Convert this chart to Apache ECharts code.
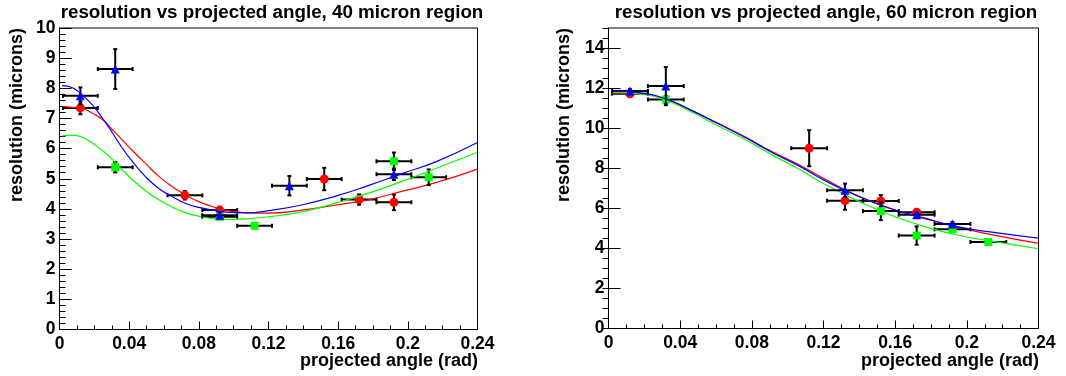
<!DOCTYPE html>
<html>
<head>
<meta charset="utf-8">
<script src="https://cdn.jsdelivr.net/npm/echarts@6/dist/echarts.min.js"></script>
<style>
  html, body { margin: 0; padding: 0; background: #fff; }
  #chart { width: 1066px; height: 376px; }
</style>
</head>
<body>
<div id="chart"></div>
<script>
// ---- tick labels ----
const xTickLabels = ['0', '0.04', '0.08', '0.12', '0.16', '0.2', '0.24'];
const yTickLabels40 = ['0', '1', '2', '3', '4', '5', '6', '7', '8', '9', '10'];
const yTickLabels60 = ['0', '2', '4', '6', '8', '10', '12', '14'];

// ---- 40 micron region: measured points (angle, resolution, errors) ----
const red40X = [0.012, 0.072, 0.092, 0.152, 0.172, 0.192];
const red40Y = [7.35, 4.45, 3.96, 4.99, 4.31, 4.22];
const red40Ey = [0.21, 0.14, 0.11, 0.37, 0.17, 0.26];

const green40X = [0.032, 0.092, 0.112, 0.192, 0.212];
const green40Y = [5.38, 3.74, 3.44, 5.58, 5.05];
const green40Ey = [0.17, 0.08, 0.05, 0.29, 0.26];

const blue40X = [0.012, 0.032, 0.092, 0.132, 0.192];
const blue40Y = [7.75, 8.64, 3.79, 4.77, 5.15];
const blue40Ey = [0.28, 0.66, 0.1, 0.32, 0.19];

// fitted curves, 40 micron region
const fit40X = [0.0015, 0.0075, 0.013, 0.019, 0.025, 0.030, 0.036, 0.042, 0.0495, 0.057, 0.065,
                0.0725, 0.080, 0.088, 0.095, 0.107, 0.120, 0.139, 0.159, 0.178, 0.197, 0.216, 0.240];
const fit40Red = [7.39, 7.37, 7.33, 7.17, 6.95, 6.65, 6.29, 5.93, 5.50, 5.08, 4.73,
                  4.46, 4.24, 4.07, 3.96, 3.87, 3.86, 3.96, 4.13, 4.31, 4.59, 4.87, 5.32];
const fit40Green = [6.42, 6.45, 6.38, 6.18, 5.92, 5.66, 5.30, 4.96, 4.60, 4.30, 4.05,
                    3.87, 3.76, 3.68, 3.65, 3.67, 3.74, 3.90, 4.20, 4.53, 4.92, 5.34, 5.88];
const fit40Blue = [8.09, 8.02, 7.78, 7.44, 6.98, 6.56, 6.02, 5.56, 5.06, 4.68, 4.40,
                   4.18, 4.05, 3.96, 3.90, 3.87, 3.94, 4.13, 4.43, 4.79, 5.18, 5.56, 6.20];

// ---- 60 micron region ----
const red60X = [0.012, 0.112, 0.132, 0.152, 0.172];
const red60Y = [11.72, 9.0, 6.38, 6.37, 5.8];
const red60Ey = [0.1, 0.9, 0.45, 0.29, 0.12];

const green60X = [0.032, 0.152, 0.172, 0.192, 0.212];
const green60Y = [11.43, 5.86, 4.64, 4.95, 4.32];
const green60Ey = [0.17, 0.45, 0.46, 0.08, 0.05];

const blue60X = [0.012, 0.032, 0.132, 0.172, 0.192];
const blue60Y = [11.86, 12.1, 6.9, 5.68, 5.22];
const blue60Ey = [0.08, 0.95, 0.33, 0.1, 0.1];

const fit60X = [0.002, 0.018, 0.032, 0.046, 0.061, 0.076, 0.091, 0.106, 0.120, 0.138, 0.157, 0.176, 0.194, 0.213, 0.240];
const fit60Red = [11.74, 11.70, 11.45, 10.90, 10.25, 9.58, 8.84, 8.18, 7.50, 6.67, 6.00, 5.50, 5.07, 4.70, 4.25];
const fit60Green = [11.80, 11.70, 11.40, 10.82, 10.12, 9.45, 8.68, 7.97, 7.24, 6.42, 5.68, 5.10, 4.68, 4.37, 3.98];
const fit60Blue = [11.86, 11.76, 11.46, 10.90, 10.23, 9.55, 8.80, 8.13, 7.42, 6.65, 6.00, 5.52, 5.10, 4.82, 4.51];

const X_HALF_BIN = 0.01;   // horizontal error (half bin width)

const FONT = '"Liberation Sans", Arial, Helvetica, sans-serif';
const RED = '#ff0000', GREEN = '#00ff00', BLUE = '#0000ff';

function zip(xs, ys) { return xs.map((x, i) => [x, ys[i]]); }

// error bars with end caps
function errorBarSeries(idx, xs, ys, eys, z) {
  return {
    type: 'custom',
    xAxisIndex: idx, yAxisIndex: idx,
    z: z,
    silent: true,
    data: xs.map((x, i) => [x, ys[i], X_HALF_BIN, eys[i]]),
    encode: { x: 0, y: 1 },
    renderItem: function (params, api) {
      const x = api.value(0), y = api.value(1), ex = api.value(2), ey = api.value(3);
      const c = api.coord([x, y]);
      const l = api.coord([x - ex, y]), r = api.coord([x + ex, y]);
      const t = api.coord([x, y + ey]), b = api.coord([x, y - ey]);
      const cap = 2;
      const style = { stroke: '#000', lineWidth: 2 };
      const ln = (x1, y1, x2, y2) => ({ type: 'line', shape: { x1, y1, x2, y2 }, style });
      return {
        type: 'group',
        children: [
          ln(l[0], c[1], r[0], c[1]),
          ln(c[0], t[1], c[0], b[1]),
          ln(l[0], c[1] - cap, l[0], c[1] + cap),
          ln(r[0], c[1] - cap, r[0], c[1] + cap),
          ln(c[0] - cap, t[1], c[0] + cap, t[1]),
          ln(c[0] - cap, b[1], c[0] + cap, b[1])
        ]
      };
    }
  };
}

function markerSeries(idx, xs, ys, symbol, size, color, z) {
  return {
    type: 'scatter',
    xAxisIndex: idx, yAxisIndex: idx,
    z: z, silent: true,
    symbol: symbol, symbolSize: size,
    itemStyle: { color: color, opacity: 1 },
    data: zip(xs, ys)
  };
}

function curveSeries(idx, xs, ys, color, z) {
  return {
    type: 'line',
    xAxisIndex: idx, yAxisIndex: idx,
    z: z, silent: true,
    smooth: 0.5,
    showSymbol: false,
    lineStyle: { color: color, width: 1.2 },
    data: zip(xs, ys)
  };
}

function xAxisCfg(gridIndex) {
  return {
    type: 'value', gridIndex: gridIndex,
    min: 0, max: 0.24, interval: 0.04,
    axisLine: { show: true, onZero: false, lineStyle: { color: '#000', width: 1 } },
    axisTick: { show: true, inside: true, length: 8, lineStyle: { color: '#000', width: 1 } },
    minorTick: { show: true, splitNumber: 4, length: 4, lineStyle: { color: '#000', width: 1 } },
    splitLine: { show: false },
    axisLabel: {
      color: '#000', fontWeight: 'bold', fontSize: 17.5, fontFamily: FONT, margin: 6,
      formatter: (v, i) => xTickLabels[i]
    }
  };
}

const labelStyle = { color: '#000', fontWeight: 'bold', fontSize: 17.5, fontFamily: FONT, margin: 4 };

const option = {
  backgroundColor: '#fff',
  animation: false,
  title: [
    {
      text: 'resolution vs projected angle, 40 micron region',
      left: 267, top: -2, textAlign: 'center',
      textStyle: { color: '#000', fontWeight: 'bold', fontSize: 18.8, fontFamily: FONT }
    },
    {
      text: 'resolution vs projected angle, 60 micron region',
      left: 821, top: -2, textAlign: 'center',
      textStyle: { color: '#000', fontWeight: 'bold', fontSize: 18.8, fontFamily: FONT }
    }
  ],
  grid: [
    { left: 59.5, right: 588.5, top: 28, bottom: 46.5, show: true, borderColor: '#000', borderWidth: 1, backgroundColor: 'transparent' },
    { left: 608.5, right: 27.5, top: 28, bottom: 47.5, show: true, borderColor: '#000', borderWidth: 1, backgroundColor: 'transparent' }
  ],
  xAxis: [xAxisCfg(0), xAxisCfg(1)],
  yAxis: [
    {
      type: 'value', gridIndex: 0, min: 0, max: 10, interval: 1,
      axisLine: { show: true, onZero: false, lineStyle: { color: '#000', width: 1 } },
      axisTick: { show: true, inside: true, length: 12, lineStyle: { color: '#000', width: 1 } },
      minorTick: { show: true, splitNumber: 5, length: 6, lineStyle: { color: '#000', width: 1 } },
      splitLine: { show: false },
      axisLabel: Object.assign({}, labelStyle, { formatter: (v, i) => yTickLabels40[i] })
    },
    {
      type: 'value', gridIndex: 1, min: 0, max: 15, interval: 2,
      axisLine: { show: true, onZero: false, lineStyle: { color: '#000', width: 1 } },
      axisTick: { show: true, inside: true, length: 12, lineStyle: { color: '#000', width: 1 } },
      minorTick: { show: false },
      splitLine: { show: false },
      axisLabel: Object.assign({}, labelStyle, {
        showMaxLabel: false,
        formatter: (v, i) => (yTickLabels60[i] !== undefined ? yTickLabels60[i] : '')
      })
    },
    {
      // minor ticks of the 60 micron panel, every 0.5
      type: 'value', gridIndex: 1, min: 0, max: 15, interval: 0.5,
      axisLine: { show: false },
      axisTick: { show: true, inside: true, length: 6, lineStyle: { color: '#000', width: 1 } },
      axisLabel: { show: false },
      splitLine: { show: false }
    }
  ],
  graphic: [
    {
      type: 'text', x: 17, y: 28, rotation: Math.PI / 2,
      style: { text: 'resolution (microns)', textAlign: 'right', textVerticalAlign: 'middle',
               fill: '#000', font: 'bold 18px ' + FONT }
    },
    {
      type: 'text', x: 564, y: 28, rotation: Math.PI / 2,
      style: { text: 'resolution (microns)', textAlign: 'right', textVerticalAlign: 'middle',
               fill: '#000', font: 'bold 18px ' + FONT }
    },
    {
      type: 'text', x: 478, y: 361,
      style: { text: 'projected angle (rad)', textAlign: 'right', textVerticalAlign: 'middle',
               fill: '#000', font: 'bold 18px ' + FONT }
    },
    {
      type: 'text', x: 1039, y: 361,
      style: { text: 'projected angle (rad)', textAlign: 'right', textVerticalAlign: 'middle',
               fill: '#000', font: 'bold 18px ' + FONT }
    }
  ],
  series: [
    // 40 micron panel
    errorBarSeries(0, red40X, red40Y, red40Ey, 10),
    markerSeries(0, red40X, red40Y, 'circle', 9, RED, 11),
    curveSeries(0, fit40X, fit40Red, RED, 12),
    errorBarSeries(0, green40X, green40Y, green40Ey, 13),
    markerSeries(0, green40X, green40Y, 'rect', 8, GREEN, 14),
    curveSeries(0, fit40X, fit40Green, GREEN, 15),
    errorBarSeries(0, blue40X, blue40Y, blue40Ey, 16),
    markerSeries(0, blue40X, blue40Y, 'triangle', 9, BLUE, 17),
    curveSeries(0, fit40X, fit40Blue, BLUE, 18),
    // 60 micron panel
    errorBarSeries(1, red60X, red60Y, red60Ey, 10),
    markerSeries(1, red60X, red60Y, 'circle', 9, RED, 11),
    curveSeries(1, fit60X, fit60Red, RED, 12),
    errorBarSeries(1, green60X, green60Y, green60Ey, 13),
    markerSeries(1, green60X, green60Y, 'rect', 8, GREEN, 14),
    curveSeries(1, fit60X, fit60Green, GREEN, 15),
    errorBarSeries(1, blue60X, blue60Y, blue60Ey, 16),
    markerSeries(1, blue60X, blue60Y, 'triangle', 9, BLUE, 17),
    curveSeries(1, fit60X, fit60Blue, BLUE, 18)
  ]
};

const chart = echarts.init(document.getElementById('chart'), null, { renderer: 'canvas' });
chart.setOption(option);
</script>
</body>
</html>
